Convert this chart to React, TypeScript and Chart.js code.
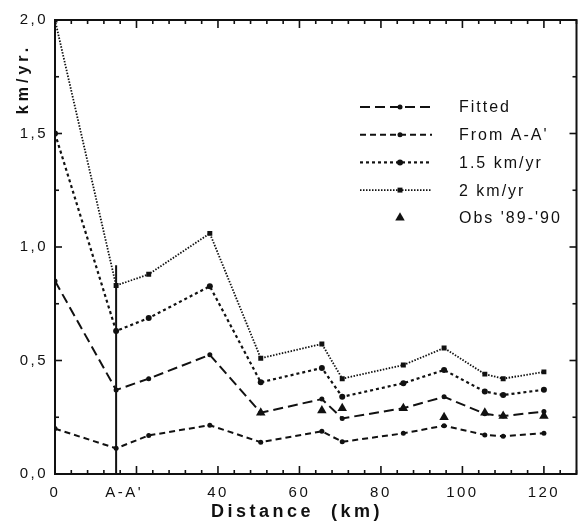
import React, { useEffect, useRef } from 'react';
import { Chart, registerables } from 'chart.js';

Chart.register(...registerables);

// ---- data ----
const distanceKm = [0, 15, 23, 38, 50.5, 65.5, 70.5, 85.5, 95.5, 105.5, 110, 120];
const fitted = [0.85, 0.37, 0.42, 0.525, 0.27, 0.33, 0.245, 0.29, 0.34, 0.265, 0.255, 0.275];
const fromAA = [0.2, 0.113, 0.17, 0.215, 0.14, 0.188, 0.142, 0.179, 0.213, 0.172, 0.166, 0.18];
const rate15 = [1.5, 0.63, 0.687, 0.827, 0.404, 0.467, 0.34, 0.4, 0.458, 0.363, 0.348, 0.371];
const rate2 = [2.0, 0.83, 0.88, 1.06, 0.51, 0.573, 0.42, 0.48, 0.555, 0.44, 0.42, 0.45];
const obsDistanceKm = [50.5, 65.5, 70.5, 85.5, 95.5, 105.5, 110, 120];
const obs8990 = [0.27, 0.28, 0.29, 0.29, 0.25, 0.27, 0.255, 0.255];
const sectionKm = [15, 15];
const sectionLine = [0, 0.92];

const seriesLabels = ['Fitted', "From A-A'", '1.5 km/yr', '2 km/yr', "Obs '89-'90"];
const xTickValues = [0, 17, 40, 60, 80, 100, 120];
const xTickLabels = ['0', "A-A'", '40', '60', '80', '100', '120'];
const yTickValues = [0, 0.5, 1.0, 1.5, 2.0];
const yTickLabels = ['0,0', '0,5', '1,0', '1,5', '2,0'];
const xTitle = 'Distance  (km)';
const yTitle = 'km/yr.';

const FONT = '"Liberation Sans", Arial, Helvetica, sans-serif';
const INK = '#111111';

function drawMarker(ctx: CanvasRenderingContext2D, style: string, x: number, y: number, r: number) {
  ctx.beginPath();
  if (style === 'rect') {
    const s = r * Math.SQRT2;
    ctx.rect(x - s / 2, y - s / 2, s, s);
  } else if (style === 'triangle') {
    let a = 0;
    ctx.moveTo(x + Math.sin(a) * r, y - Math.cos(a) * r);
    a += (2 * Math.PI) / 3;
    ctx.lineTo(x + Math.sin(a) * r, y - Math.cos(a) * r);
    a += (2 * Math.PI) / 3;
    ctx.lineTo(x + Math.sin(a) * r, y - Math.cos(a) * r);
    ctx.closePath();
  } else {
    ctx.arc(x, y, r, 0, Math.PI * 2);
  }
  ctx.fill();
}

export default function App() {
  const ref = useRef<HTMLCanvasElement>(null);

  useEffect(() => {
    document.body.style.margin = '0';
    const canvas = ref.current!;
    const pts = (xs: number[], ys: number[]) => xs.map((x, i) => ({ x, y: ys[i] }));

    const datasets: any[] = [
      {
        label: seriesLabels[0], data: pts(distanceKm, fitted), showLine: true,
        borderColor: INK, backgroundColor: INK, borderWidth: 2, borderDash: [10, 5],
        pointStyle: 'circle', pointRadius: 2.5, pointBorderWidth: 0,
      },
      {
        label: seriesLabels[1], data: pts(distanceKm, fromAA), showLine: true,
        borderColor: INK, backgroundColor: INK, borderWidth: 2, borderDash: [6, 4],
        pointStyle: 'circle', pointRadius: 2.5, pointBorderWidth: 0,
      },
      {
        label: seriesLabels[2], data: pts(distanceKm, rate15), showLine: true,
        borderColor: INK, backgroundColor: INK, borderWidth: 2.2, borderDash: [3, 3],
        pointStyle: 'circle', pointRadius: 3, pointBorderWidth: 0,
      },
      {
        label: seriesLabels[3], data: pts(distanceKm, rate2), showLine: true,
        borderColor: INK, backgroundColor: INK, borderWidth: 1.8, borderDash: [1.5, 1.5],
        pointStyle: 'rect', pointRadius: 3.5, pointBorderWidth: 0,
      },
      {
        label: seriesLabels[4], data: pts(obsDistanceKm, obs8990), showLine: false,
        borderColor: INK, backgroundColor: INK, borderWidth: 0,
        pointStyle: 'triangle', pointRadius: 5.5, pointBorderWidth: 0,
      },
      {
        label: '', data: pts(sectionKm, sectionLine), showLine: true,
        borderColor: INK, borderWidth: 2, pointRadius: 0,
      },
    ];

    const framePlugin = {
      id: 'frame',
      beforeDraw(chart: any) {
        const c = chart.ctx as any;
        c.letterSpacing = '2.5px';
      },
      afterDraw(chart: any) {
        const ctx = chart.ctx as CanvasRenderingContext2D & { letterSpacing: string };
        const { left, right, top, bottom } = chart.chartArea;
        const xs = chart.scales.x;
        const ys = chart.scales.y;
        ctx.save();
        ctx.strokeStyle = INK;
        ctx.fillStyle = INK;
        ctx.setLineDash([]);
        ctx.lineWidth = 2;
        ctx.strokeRect(left, top, right - left, bottom - top);
        ctx.lineWidth = 1.6;
        const seg = (x1: number, y1: number, x2: number, y2: number) => {
          ctx.beginPath(); ctx.moveTo(x1, y1); ctx.lineTo(x2, y2); ctx.stroke();
        };
        for (let v = 0; v <= xs.max + 0.001; v += 4) {
          const px = xs.getPixelForValue(v);
          const len = v % 20 === 0 ? 8 : 4;
          seg(px, bottom, px, bottom - len);
          seg(px, top, px, top + len);
        }
        for (let k = 0; k <= 8; k++) {
          const v = k * 0.25;
          const py = ys.getPixelForValue(v);
          const len = k % 2 === 0 ? 7 : 4;
          seg(left, py, left + len, py);
          seg(right, py, right - len, py);
        }

        // legend
        ctx.font = `16px ${FONT}`;
        ctx.letterSpacing = '2px';
        ctx.textAlign = 'left';
        ctx.textBaseline = 'middle';
        const items = chart.data.datasets.filter((d: any) => d.label);
        items.forEach((ds: any, i: number) => {
          const y = 107 + i * 27.7;
          if (ds.showLine) {
            ctx.setLineDash(ds.borderDash || []);
            ctx.lineWidth = ds.borderWidth;
            ctx.beginPath(); ctx.moveTo(360, y); ctx.lineTo(432, y); ctx.stroke();
            ctx.setLineDash([]);
          }
          drawMarker(ctx, ds.pointStyle, 400, y, ds.pointRadius);
          ctx.fillText(ds.label, 459, y + 1);
        });

        // axis titles
        ctx.font = `bold 18px ${FONT}`;
        ctx.letterSpacing = '3.5px';
        ctx.textAlign = 'center';
        ctx.fillText(xTitle, 297, 512);
        ctx.save();
        ctx.translate(24, 79);
        ctx.rotate(-Math.PI / 2);
        ctx.font = `bold 16px ${FONT}`;
        ctx.letterSpacing = '4px';
        ctx.fillText(yTitle, 0, 0);
        ctx.restore();
        ctx.restore();
      },
    };

    const chart = new Chart(canvas, {
      type: 'scatter',
      data: { datasets },
      options: {
        animation: false,
        responsive: false,
        layout: { padding: { top: 20, right: 2, left: 0, bottom: 0 } },
        plugins: { legend: { display: false }, tooltip: { enabled: false } },
        scales: {
          x: {
            type: 'linear', min: 0, max: 128,
            grid: { display: false, drawTicks: false },
            border: { display: false },
            afterBuildTicks: (scale: any) => { scale.ticks = xTickValues.map((v) => ({ value: v })); },
            afterFit: (scale: any) => { scale.height = 54; },
            ticks: {
              padding: 10, color: INK, font: { family: FONT, size: 15 }, maxRotation: 0, autoSkip: false,
              callback: (v: any) => xTickLabels[xTickValues.indexOf(Number(v))] ?? '',
            },
          },
          y: {
            type: 'linear', min: 0, max: 2,
            grid: { display: false, drawTicks: false },
            border: { display: false },
            afterBuildTicks: (scale: any) => { scale.ticks = yTickValues.map((v) => ({ value: v })); },
            afterFit: (scale: any) => { scale.width = 55; },
            ticks: {
              padding: 7, color: INK, font: { family: FONT, size: 15 },
              callback: (v: any) => yTickLabels[yTickValues.indexOf(Number(v))] ?? '',
            },
          },
        },
      },
      plugins: [framePlugin],
    } as any);

    return () => chart.destroy();
  }, []);

  return (
    <div style={{ width: 582, height: 528, background: '#fff' }}>
      <canvas ref={ref} width={582} height={528} style={{ display: 'block' }} />
    </div>
  );
}
